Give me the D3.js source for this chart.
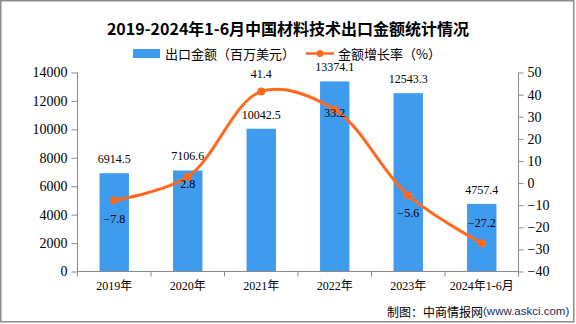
<!DOCTYPE html>
<html><head><meta charset="utf-8">
<script src="https://cdn.jsdelivr.net/npm/d3@7"></script>
<style>
html,body{margin:0;padding:0;background:#fff;}
svg{display:block;}
</style></head>
<body>
<svg id="c" width="576" height="324"></svg>
<script>
const categories = ["2019年","2020年","2021年","2022年","2023年","2024年1-6月"];
const exportValues = [6914.5, 7106.6, 10042.5, 13374.1, 12543.3, 4757.4];
const growthRates = [-7.8, 2.8, 41.4, 33.2, -5.6, -27.2];
const leftTicks = [0,2000,4000,6000,8000,10000,12000,14000];
const rightTicks = [-40,-30,-20,-10,0,10,20,30,40,50];
const growthLabelDy = [19, 7, -18, 3, 18, -20];

const BLUE = "#3E9BEE", ORANGE = "#FF6A22", AXIS = "#8a8a8a";
const NUM = "'Liberation Serif','Noto Sans CJK SC',serif";
const CJK = "'Noto Sans CJK SC',sans-serif";

const svg = d3.select("#c");
svg.append("rect").attr("x",0.75).attr("y",0.75).attr("width",573).attr("height",321)
  .attr("fill","#fff").attr("stroke","#8c8c8c").attr("stroke-width",1.5);

const L = 77.5, R = 518.5, T = 72.5, B = 271.5;
const x = d3.scaleBand().domain(categories).range([L,R]).paddingInner(0.6).paddingOuter(0.3);
const yL = d3.scaleLinear().domain([0,14000]).range([B,T]);
const yR = d3.scaleLinear().domain([-40,50]).range([B,T]);

// title
svg.append("text").attr("x",288).attr("y",28).attr("text-anchor","middle")
  .attr("dominant-baseline","central")
  .attr("font-family",CJK).attr("font-weight","bold").attr("font-size",16).attr("fill","#000")
  .text("2019-2024年1-6月中国材料技术出口金额统计情况");

// legend
const lg = svg.append("g");
lg.append("rect").attr("x",133).attr("y",49).attr("width",27).attr("height",9).attr("fill",BLUE);
lg.append("text").attr("x",165).attr("y",53.5).attr("dominant-baseline","central")
  .attr("font-family",CJK).attr("font-size",13).text("出口金额（百万美元）");
lg.append("line").attr("x1",306).attr("x2",334).attr("y1",53.5).attr("y2",53.5)
  .attr("stroke",ORANGE).attr("stroke-width",2.5);
lg.append("circle").attr("cx",320).attr("cy",53.5).attr("r",3.5).attr("fill",ORANGE);
lg.append("text").attr("x",338).attr("y",53.5).attr("dominant-baseline","central")
  .attr("font-family",CJK).attr("font-size",13).text("金额增长率（%）");

// bars
svg.append("g").selectAll("rect").data(exportValues).join("rect")
  .attr("x",(d,i)=>x(categories[i])).attr("width",x.bandwidth())
  .attr("y",d=>yL(d)).attr("height",d=>B-0.5-yL(d)).attr("fill",BLUE);

// axes
const axL = svg.append("g").attr("transform",`translate(${L},0)`)
  .call(d3.axisLeft(yL).tickValues(leftTicks).tickSize(6).tickPadding(4).tickFormat(d3.format("d")));
const axR = svg.append("g").attr("transform",`translate(${R},0)`)
  .call(d3.axisRight(yR).tickValues(rightTicks).tickSize(5).tickPadding(4).tickFormat(d=>d<0?"\u2212"+Math.abs(d):d));
const bounds = categories.map(c=>x(c)-x.step()*x.paddingInner()/2).concat([R]);
const axX = svg.append("g");
axX.append("line").attr("x1",L).attr("x2",R).attr("y1",B).attr("y2",B).attr("stroke",AXIS);
axX.selectAll("line.t").data(bounds).join("line").attr("class","t")
  .attr("x1",d=>d).attr("x2",d=>d).attr("y1",B).attr("y2",B+5).attr("stroke",AXIS);
axX.selectAll("text").data(categories).join("text")
  .attr("x",d=>x(d)+x.bandwidth()/2).attr("y",286).attr("text-anchor","middle")
  .attr("dominant-baseline","central").attr("font-family",NUM).attr("font-size",12).text(d=>d);
[axL,axR].forEach(a=>{
  a.select(".domain").attr("stroke",AXIS).attr("d", a===axL?`M0.5,${T}V${B}`:`M0,${T}V${B}`);
  a.selectAll(".tick line").attr("stroke",AXIS);
  a.selectAll(".tick text").attr("font-family",NUM).attr("font-size",14).attr("fill","#000");
});
axL.select(".domain").attr("d",`M0,${T}V${B}`);

// bar labels
svg.append("g").selectAll("text").data(exportValues).join("text")
  .attr("x",(d,i)=>x(categories[i])+x.bandwidth()/2).attr("y",d=>yL(d)-14)
  .attr("text-anchor","middle").attr("dominant-baseline","central")
  .attr("font-family",NUM).attr("font-size",12).text(d=>d.toFixed(1));

// line
const cx = (i)=>x(categories[i])+x.bandwidth()/2;
const line = d3.line().x((d,i)=>cx(i)).y(d=>yR(d)).curve(d3.curveCatmullRom.alpha(0.5));
svg.append("path").datum(growthRates).attr("d",line).attr("fill","none")
  .attr("stroke",ORANGE).attr("stroke-width",3);
svg.append("g").selectAll("circle").data(growthRates).join("circle")
  .attr("cx",(d,i)=>cx(i)).attr("cy",d=>yR(d)).attr("r",4).attr("fill",ORANGE);
svg.append("g").selectAll("text").data(growthRates).join("text")
  .attr("x",(d,i)=>cx(i)).attr("y",(d,i)=>yR(d)+growthLabelDy[i])
  .attr("text-anchor","middle").attr("dominant-baseline","central")
  .attr("font-family",NUM).attr("font-size",12).text(d=>(d<0?"\u2212"+Math.abs(d):d).toString().replace(/^(\d+)$/,"$1.0"));

// source
const src = svg.append("text").attr("x",387).attr("y",311).attr("dominant-baseline","central")
  .attr("font-size",12).attr("font-family",CJK);
src.append("tspan").text("制图：中商情报网");
src.append("tspan").attr("font-family","'Liberation Sans',sans-serif").attr("font-size",11.5)
  .attr("fill","#1f2a5a").text("(www.askci.com)");
</script>
</body></html>
